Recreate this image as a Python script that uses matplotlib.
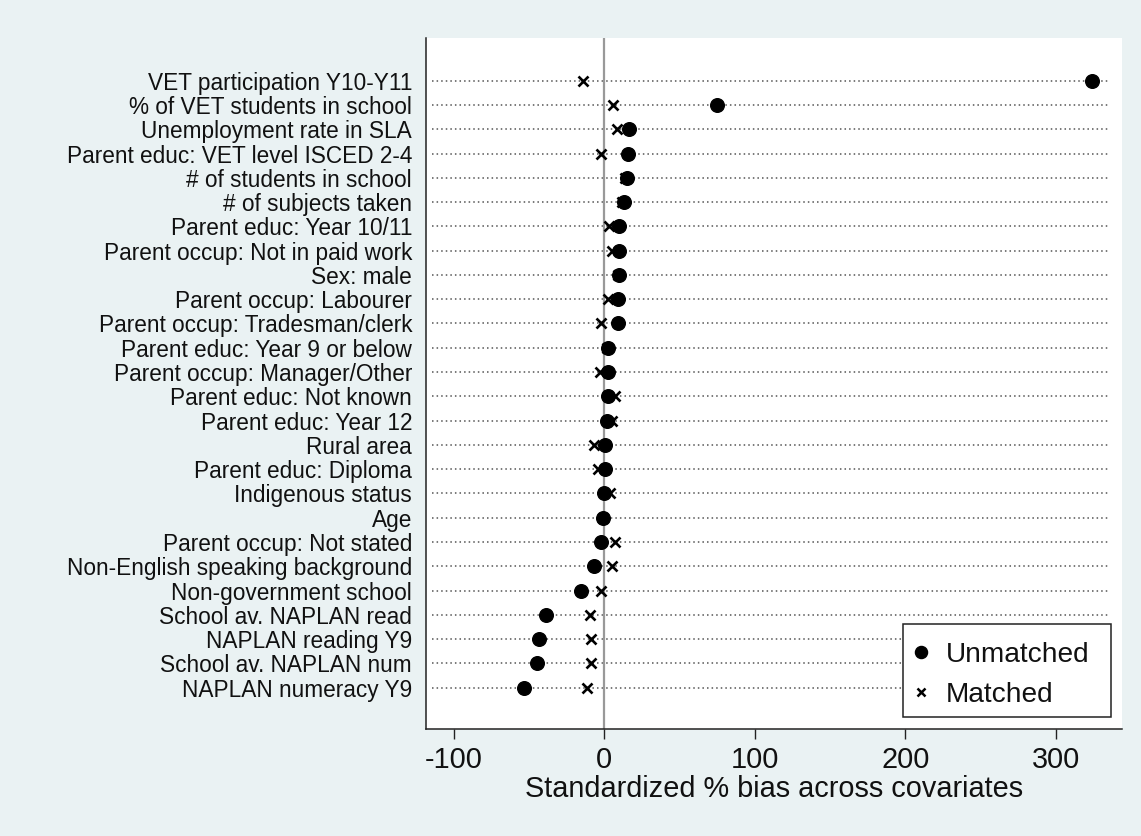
import matplotlib
matplotlib.use("Agg")
import matplotlib.pyplot as plt
from matplotlib.lines import Line2D
from matplotlib.patches import Rectangle
import numpy as np

plt.rcParams['font.family'] = ['Liberation Sans', 'DejaVu Sans']

covariates = [
    "VET participation Y10-Y11",
    "% of VET students in school",
    "Unemployment rate in SLA",
    "Parent educ: VET level ISCED 2-4",
    "# of students in school",
    "# of subjects taken",
    "Parent educ: Year 10/11",
    "Parent occup: Not in paid work",
    "Sex: male",
    "Parent occup: Labourer",
    "Parent occup: Tradesman/clerk",
    "Parent educ: Year 9 or below",
    "Parent occup: Manager/Other",
    "Parent educ: Not known",
    "Parent educ: Year 12",
    "Rural area",
    "Parent educ: Diploma",
    "Indigenous status",
    "Age",
    "Parent occup: Not stated",
    "Non-English speaking background",
    "Non-government school",
    "School av. NAPLAN read",
    "NAPLAN reading Y9",
    "School av. NAPLAN num",
    "NAPLAN numeracy Y9",
]
unmatched = [324.3, 74.7, 16.6, 15.5, 15.3, 12.9, 9.8, 9.8, 10.0, 8.9, 9.1, 2.7,
             2.7, 2.7, 1.8, 0.7, 0.7, -0.4, -1.1, -2.0, -6.6, -15.7, -38.9, -43.4,
             -44.5, -53.4]
matched = [-14.4, 6.0, 8.6, -2.2, 14.0, 12.0, 3.1, 4.9, 9.0, 2.2, -2.2, 2.0,
           -2.9, 7.1, 4.9, -6.6, -4.0, 3.8, -1.0, 7.1, 5.3, -2.2, -9.5, -8.8,
           -8.8, -11.3]
xticks = [-100, 0, 100, 200, 300]
xlabel = "Standardized % bias across covariates"
legend_labels = ["Unmatched", "Matched"]

W, H = 1141, 836
fig = plt.figure(figsize=(W / 100, H / 100), dpi=100)
fig.patch.set_facecolor('#EAF2F3')


def fx(px):
    return px / W


def fy(py):
    return 1 - py / H


left, right, top, bottom = 426, 1121.7, 38.3, 729
ax = fig.add_axes([fx(left), fy(bottom), (right - left) / W, (bottom - top) / H])
ax.set_facecolor('white')

n = len(covariates)
ypos = np.arange(1, n + 1)

for y in ypos:
    ax.axhline(y, xmin=0.008, xmax=0.983, color='#555555', lw=1.1,
               linestyle=(0, (1, 2.0)), zorder=1)
ax.axvline(0, color='#999999', lw=1.6, zorder=2)

ax.plot(unmatched, ypos, 'o', color='black', ms=9.8, zorder=4)
ax.plot(matched, ypos, 'x', color='black', ms=6.8, mew=1.9, zorder=3)

ax.set_xlim(-118.5, 343.8)
ax.set_ylim(n + 1.70, 1 - 1.745)
ax.set_yticks(ypos)
ax.set_yticklabels(covariates, fontsize=16.3, color='#111111')
ax.tick_params(axis='y', length=0, pad=10)
ax.set_xticks(xticks)
ax.set_xticklabels([str(t) for t in xticks], fontsize=20.8, color='#111111')
ax.tick_params(axis='x', length=7.3, width=1.0, color='#222222', pad=5)
ax.set_xlabel(xlabel, fontsize=20.8, labelpad=1, color='#111111')

for s in ['top', 'right']:
    ax.spines[s].set_visible(False)
for s in ['left', 'bottom']:
    ax.spines[s].set_linewidth(1.1)
    ax.spines[s].set_color('#222222')

# legend box drawn manually (Stata style)
lx0, lx1, ly0, ly1 = 902.7, 1111, 624, 716.7
fig.patches.append(Rectangle((fx(lx0), fy(ly1)), (lx1 - lx0) / W, (ly1 - ly0) / H,
                             transform=fig.transFigure, facecolor='white',
                             edgecolor='#222222', lw=1.1, zorder=5))
rows = [651.7, 691.7]
fig.add_artist(Line2D([fx(920.7)], [fy(rows[0])], marker='o', ls='none',
                      color='black', ms=8.7, transform=fig.transFigure, zorder=6))
fig.add_artist(Line2D([fx(920.7)], [fy(rows[1])], marker='x', ls='none',
                      color='black', ms=6, mew=1.8, transform=fig.transFigure, zorder=6))
for lab, ry in zip(legend_labels, rows):
    fig.text(fx(945.7), fy(ry + 10.2), lab, fontsize=20.2, ha='left',
             va='baseline', color='#111111', zorder=7)

fig.savefig('out.png', dpi=100, facecolor=fig.get_facecolor())
